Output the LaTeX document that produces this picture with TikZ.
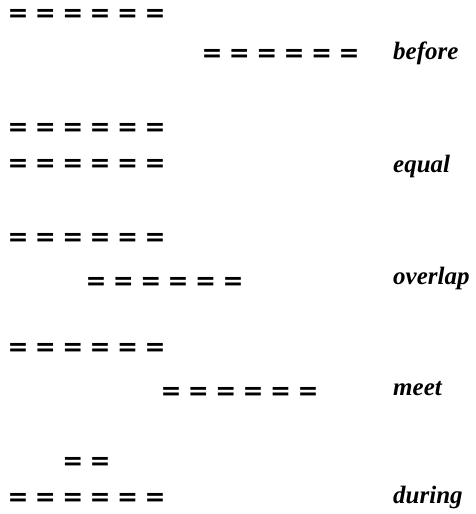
\documentclass[tikz,border=0pt]{standalone}
\usepackage{fontspec}
\setmainfont{Liberation Serif}
\newfontfamily\eqfont{DejaVu Sans}
\usetikzlibrary{positioning}

\begin{document}
\begin{tikzpicture}[
  x=1pt, y=-1pt,
  eqsign/.style={inner sep=0pt, font=\eqfont\bfseries\fontsize{25}{30}\selectfont},
  relname/.style={anchor=base west, inner sep=0pt, font=\bfseries\itshape\fontsize{25}{30}\selectfont}
]
\useasboundingbox (0,0) rectangle (476,514);

% before
\foreach \i in {0,...,5} {
  \node[eqsign] (beforeA\i) at (18+27.4*\i, 15) {=};
  \node[eqsign] (beforeB\i) at (212+27.4*\i, 55) {=};
}
\node[relname] (before) at (393,59) {before};

% equal
\foreach \i in {0,...,5} {
  \node[eqsign] (equalA\i) at (18+27.4*\i, 129) {=};
  \node[eqsign] (equalB\i) at (18+27.4*\i, 165) {=};
}
\node[relname] (equal) at (393,172) {equal};

% overlap
\foreach \i in {0,...,5} {
  \node[eqsign] (overlapA\i) at (18+27.4*\i, 239) {=};
  \node[eqsign] (overlapB\i) at (96+27.4*\i, 283) {=};
}
\node[relname] (overlap) at (393,284) {overlap};

% meet
\foreach \i in {0,...,5} {
  \node[eqsign] (meetA\i) at (18+27.4*\i, 349) {=};
  \node[eqsign] (meetB\i) at (171+27.4*\i, 393) {=};
}
\node[relname] (meet) at (393,395) {meet};

% during
\foreach \i in {2,3}
  \node[eqsign] (duringA\i) at (18+27.4*\i, 463) {=};
\foreach \i in {0,...,5}
  \node[eqsign] (duringB\i) at (18+27.4*\i, 499) {=};
\node[relname] (during) at (393,503) {during};
\end{tikzpicture}
\end{document}
